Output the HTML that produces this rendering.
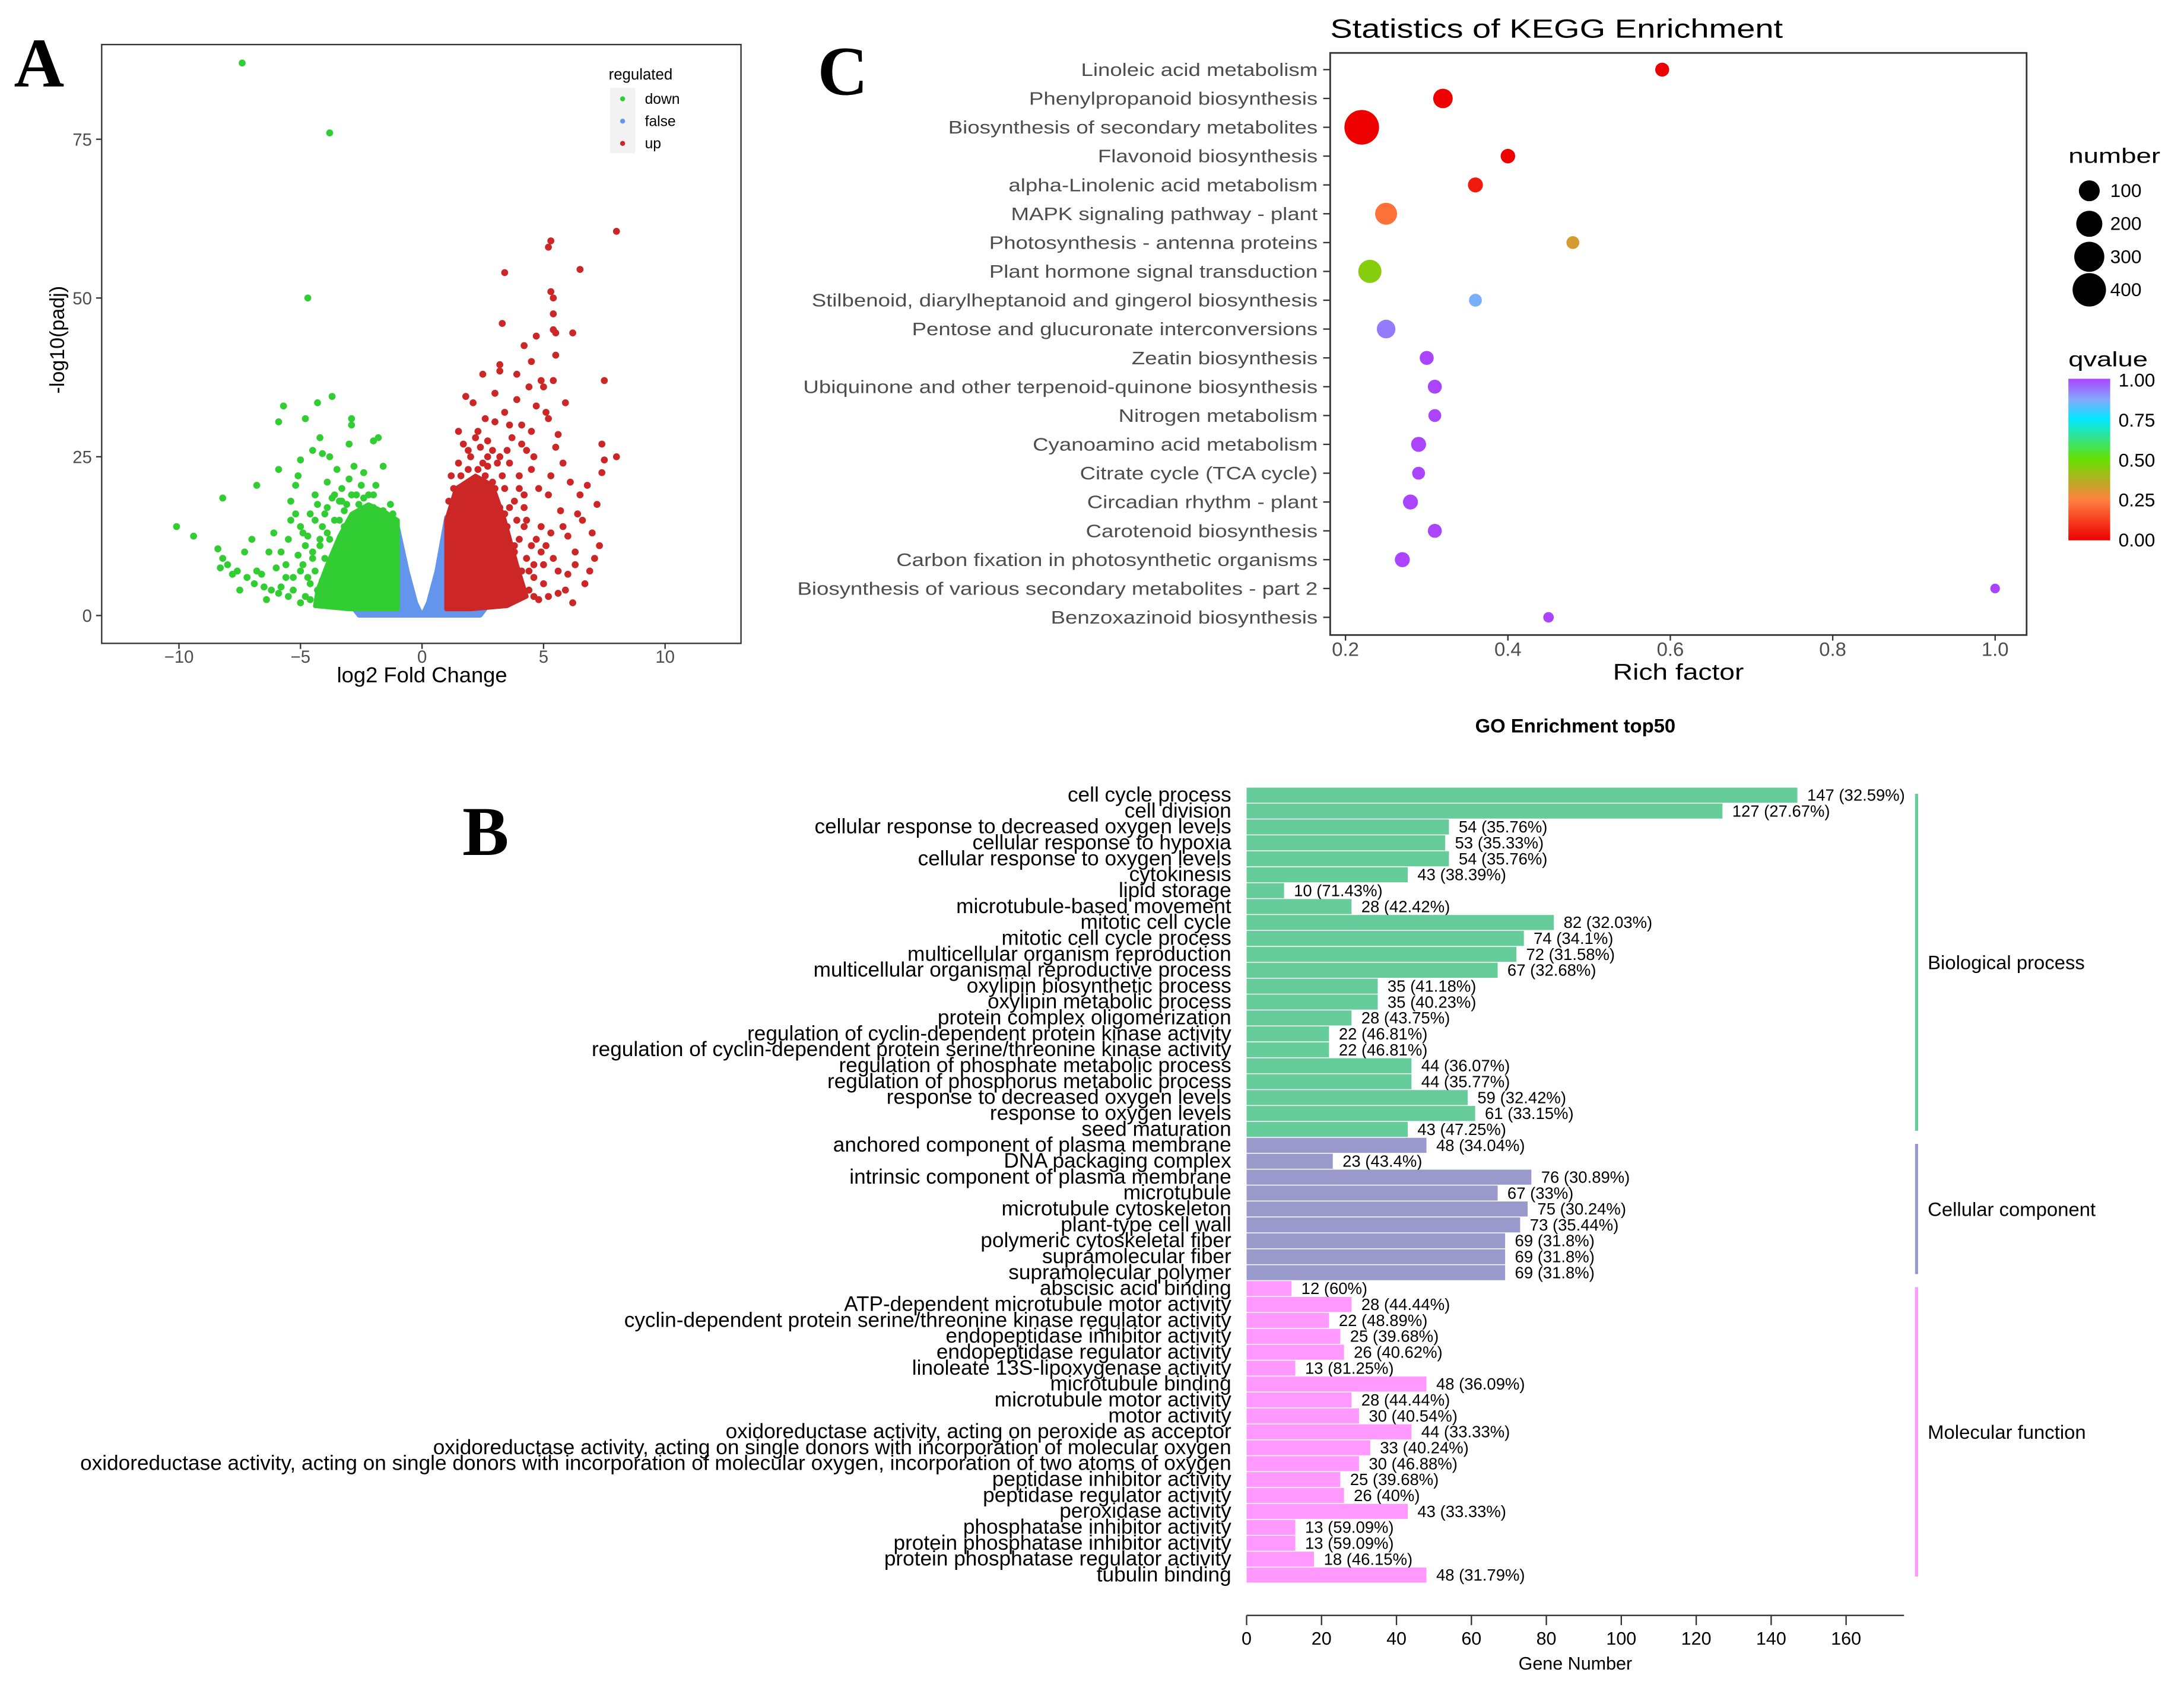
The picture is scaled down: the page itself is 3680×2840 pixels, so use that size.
<!DOCTYPE html>
<html><head><meta charset="utf-8"><style>
html,body{margin:0;padding:0;background:#fff;}
svg{display:block;font-family:"Liberation Sans",sans-serif;}
</style></head><body>
<svg id="fig" width="3680" height="2840" viewBox="0 0 1568 1210" preserveAspectRatio="none" xmlns="http://www.w3.org/2000/svg">
<rect width="1568" height="1210" fill="#fff"/>
<text x="10" y="62" font-family="Liberation Serif,serif" font-weight="bold" font-size="50">A</text>
<text x="587" y="68" font-family="Liberation Serif,serif" font-weight="bold" font-size="50">C</text>
<text x="332" y="614" font-family="Liberation Serif,serif" font-weight="bold" font-size="50">B</text>
<g id="volcano"></g>
<g id="kegg"></g>
<g id="go"></g>
</svg>
<script>
const NS="http://www.w3.org/2000/svg";
function mk(parent,tag,attrs,text){const e=document.createElementNS(NS,tag);for(const k in attrs)e.setAttribute(k,attrs[k]);if(text!==undefined)e.textContent=text;parent.appendChild(e);return e;}

/* ---------- Panel A: volcano ---------- */
const volXTicks=[-10,-5,0,5,10];
const volYTicks=[0,25,50,75];
const downPts=[[-7.4,87],[-3.8,76],[-4.7,50],[-10.1,14],[-9.4,12.5],[-8.2,18.5],[-6.8,20.5],[-5.7,33],[-4.3,33.5],[-3.7,34.5],[-5.9,30.5],[-4.8,31],[-2.9,31],[-2.9,30],[-1.8,28],[-2.0,27.5],[-4.2,28],[-3.0,27],[-4.5,26],[-4.1,25.5],[-3.8,25],[-5.0,24.5],[-3.5,23],[-5.9,23],[-1.6,23.5],[-2.8,23.5],[-2.4,22.5],[-5.1,22],[-3.0,21.5],[-3.9,21],[-2.5,20.5],[-3.3,20],[-5.2,20.5],[-8.4,10.5],[-8.2,9],[-8.0,8],[-7.6,7],[-7.2,6],[-6.9,5],[-6.5,4.5],[-6.2,4],[-5.8,4.5],[-7.0,12],[-7.3,10],[-6.6,6.5],[-6.0,7.5],[-5.5,3],[-5.0,2],[-5.3,6],[-4.9,8],[-5.5,12],[-5.0,14],[-4.6,16],[-4.2,12],[-3.9,17],[-3.6,19],[-3.4,15],[-3.2,14],[-4.5,10],[-4.0,9],[-3.7,6],[-4.3,4],[-4.8,11],[-5.2,16],[-5.4,18],[-4.4,19],[-7.8,6.5],[-8.3,7.5],[-6.4,2.5],[-5.9,3.5],[-4.6,2.5],[-3.4,18],[-2.2,19],[-1.9,20.5],[-2.7,19],[-3.1,17.5],[-1.5,16],[-1.2,15],[-4.1,14],[-3.8,12],[-4.7,6],[-5.6,8],[-6.3,10],[-6.8,7],[-7.5,4],[-3.5,10],[-3.9,3],[-4.6,5],[-4.8,3],[-5.0,7],[-4.5,9],[-4.2,11],[-3.9,13],[-3.6,15],[-3.2,16.5],[-2.6,17.5],[-2.0,17],[-1.6,16.5],[-1.2,16],[-5.3,4],[-5.6,6],[-4.9,13],[-4.4,15],[-4.0,16],[-3.3,18],[-2.9,19],[-2.4,18.5],[-5.1,9.5],[-4.7,12.5],[-4.4,7],[-4.1,5.5],[-5.8,10],[-6.1,13],[-5.4,15],[-4.3,17.5],[-3.7,18.5],[-2.0,19],[-1.3,17.5]];
const downCore=[[-1,1],[-1,15],[-1.4,16],[-2.2,17.5],[-2.9,16],[-3.4,12.5],[-3.9,8],[-4.3,4],[-4.4,1.5],[-3,1]];
const upPts=[[8.0,60.5],[5.3,59],[5.2,58],[6.5,54.5],[3.4,54],[5.3,51],[5.4,50],[5.4,47.5],[3.3,46],[5.4,45],[5.5,44.5],[6.2,44.5],[4.7,44],[4.2,42.5],[5.5,41],[4.5,40],[3.2,39.5],[3.2,38.5],[2.5,38],[7.5,37],[4.9,37],[5.4,37],[5.0,36],[4.4,36],[3.0,35],[1.8,34.5],[2.1,33.5],[5.9,33.5],[3.9,34],[4.7,33],[5.1,32],[3.4,32],[5.2,31],[3.0,30.5],[4.1,30],[2.3,29],[4.5,29],[1.5,29],[5.6,28.5],[3.7,28],[2.7,27.5],[4.1,27],[7.4,27],[5.5,26.5],[2.9,26],[1.9,26],[3.2,25],[4.6,25],[8.0,25],[7.5,24.5],[3.6,24],[2.7,23.5],[4.5,23],[7.4,22.5],[5.3,22],[6.1,21],[6.8,20.5],[4.0,20],[5.2,19],[6.5,19],[7.2,17.5],[5.7,16.5],[6.6,15],[4.3,15],[5.8,14],[6.0,12.5],[4.7,12],[7.3,11],[5.1,11],[3.8,10],[6.3,10],[5.4,9],[4.6,8],[6.9,7],[5.6,7],[4.0,5],[5.0,5],[6.7,5],[3.6,4.5],[5.9,4],[4.6,3],[3.8,3],[6.2,2],[5.6,3.5],[6.0,6.5],[4.9,10],[3.5,12],[3.0,20],[2.5,24],[3.8,18],[4.2,14],[3.0,8],[2.8,13],[6.4,16],[7.0,13],[3.3,22],[4.8,20],[2.2,28],[3.6,30],[4.3,26],[5.8,24],[6.3,8],[7.1,9],[4.4,7],[3.4,16],[4.0,22],[2.6,31],[3.9,38],[4.4,4],[4.1,7],[3.8,11],[3.5,14],[3.2,17],[2.9,21],[2.6,22],[2.3,23],[1.9,23],[1.6,22],[1.3,20],[1.1,18],[4.6,6],[4.3,9],[4.0,12],[3.6,17],[2.7,25],[2.0,25],[1.5,24],[1.2,22],[3.1,24],[3.4,20],[4.8,2.5],[5.2,3],[4.2,17],[3.9,15],[4.5,11],[5.0,8],[2.4,26.5],[1.7,27],[3.5,26],[4.2,19],[4.9,14],[5.3,13]];
const upCore=[[1,1],[1,15],[1.4,20],[2.2,22],[2.9,20.5],[3.4,15],[3.9,8],[4.3,3],[3.5,1.5],[2,1]];
const falseCore=[[-1,1],[-1,14],[-0.6,7],[-0.25,2],[0,0],[0.25,2],[0.6,7],[1,15.5],[1,1],[2.6,1],[2.4,0],[-2.6,0],[-2.8,1]];

const vx=v=>303+v*17.45, vy=v=>442-v*4.56;
(function(){
 const g=document.getElementById('volcano');
 mk(g,'rect',{x:73,y:32,width:459,height:430,fill:'none',stroke:'#333','stroke-width':1});
 volXTicks.forEach(t=>{mk(g,'line',{x1:vx(t),x2:vx(t),y1:462,y2:466,stroke:'#333'});
  const e=mk(g,'text',{x:vx(t),y:476,'text-anchor':'middle','font-size':12.5,fill:'#4d4d4d'},t<0?'\u2212'+(-t):String(t));
  });
 volYTicks.forEach(t=>{mk(g,'line',{x1:69,x2:73,y1:vy(t),y2:vy(t),stroke:'#333'});
  const e=mk(g,'text',{x:66,y:vy(t)+4.5,'text-anchor':'end','font-size':12.5,fill:'#4d4d4d'},String(t));
  });
 const xt=mk(g,'text',{x:303,y:490,'text-anchor':'middle','font-size':15.5},'log2 Fold Change');
 
 const yt=mk(g,'text',{x:0,y:0,transform:'translate(46,244) rotate(-90)','text-anchor':'middle','font-size':14.5},'-log10(padj)');
 
 const poly=(pts,c,name)=>{const p=mk(g,'polygon',{points:pts.map(q=>vx(q[0])+','+vy(q[1])).join(' '),fill:c,stroke:c,'stroke-width':3,'stroke-linejoin':'round'});
  };
 poly(falseCore,'#6495ed','false-core');
 poly(downCore,'#32cd32','down-core');
 poly(upCore,'#cd2626','up-core');
 downPts.forEach(p=>{const c=mk(g,'circle',{cx:vx(p[0]),cy:vy(p[1]),r:2.5,fill:'#32cd32'});
  });
 upPts.forEach(p=>{const c=mk(g,'circle',{cx:vx(p[0]),cy:vy(p[1]),r:2.5,fill:'#cd2626'});
  });
 const lt=mk(g,'text',{x:437,y:57,'font-size':11},'regulated');
 
 mk(g,'rect',{x:438,y:63,width:18,height:47,fill:'#f2f2f2'});
 [['down','#32cd32',71],['false','#6495ed',87],['up','#cd2626',103]].forEach(l=>{
  const c=mk(g,'circle',{cx:447,cy:l[2],r:1.8,fill:l[1]});
  
  const t=mk(g,'text',{x:463,y:l[2]+3.5,'font-size':10.5},l[0]);
  });
})();

/* ---------- Panel C: KEGG ---------- */
const keggTerms=["Linoleic acid metabolism","Phenylpropanoid biosynthesis","Biosynthesis of secondary metabolites","Flavonoid biosynthesis","alpha-Linolenic acid metabolism","MAPK signaling pathway - plant","Photosynthesis - antenna proteins","Plant hormone signal transduction","Stilbenoid, diarylheptanoid and gingerol biosynthesis","Pentose and glucuronate interconversions","Zeatin biosynthesis","Ubiquinone and other terpenoid-quinone biosynthesis","Nitrogen metabolism","Cyanoamino acid metabolism","Citrate cycle (TCA cycle)","Circadian rhythm - plant","Carotenoid biosynthesis","Carbon fixation in photosynthetic organisms","Biosynthesis of various secondary metabolites - part 2","Benzoxazinoid biosynthesis"];
const keggRich=[0.59,0.32,0.22,0.40,0.36,0.25,0.48,0.23,0.36,0.25,0.30,0.31,0.31,0.29,0.29,0.28,0.31,0.27,1.00,0.45];
const keggCount=[20,80,440,24,28,118,13,140,13,67,20,20,13,28,13,28,20,28,1,3];
const keggQ=[0.0,0.0,0.0,0.0,0.05,0.22,0.32,0.45,0.86,0.93,1,1,1,1,1,1,1,1,1,1];
const keggXTicks=[0.2,0.4,0.6,0.8,1.0];
const numLegend=[100,200,300,400];
const qTicks=[1.00,0.75,0.50,0.25,0.00];
const kx=v=>966+(v-0.2)*583, ky=i=>50+i*20.7;
const kr=n=>3+0.45*Math.sqrt(n);
const stops=[[0,[238,0,0]],[0.25,[255,128,64]],[0.5,[102,224,0]],[0.75,[0,232,255]],[0.87,[130,170,250]],[1,[170,68,255]]];
function qcol(q){for(let i=0;i<stops.length-1;i++){const a=stops[i],b=stops[i+1];if(q<=b[0]){const t=(q-a[0])/(b[0]-a[0]);return 'rgb('+a[1].map((v,j)=>Math.round(v+(b[1][j]-v)*t)).join(',')+')';}}return 'rgb(170,68,255)';}
(function(){
 const g=document.getElementById('kegg');
 const tt=mk(g,'text',{x:955,y:27,'font-size':19,textLength:325,lengthAdjust:'spacingAndGlyphs'},'Statistics of KEGG Enrichment');
 
 mk(g,'rect',{x:955,y:38,width:500,height:418,fill:'none',stroke:'#333','stroke-width':1.2});
 keggTerms.forEach((t,i)=>{mk(g,'line',{x1:950,x2:955,y1:ky(i),y2:ky(i),stroke:'#333'});
  const e=mk(g,'text',{x:946,y:ky(i)+4.5,'text-anchor':'end','font-size':13,fill:'#4d4d4d',transform:'translate(946,0) scale(1.2,1) translate(-946,0)'},t);
  });
 keggXTicks.forEach(t=>{mk(g,'line',{x1:kx(t),x2:kx(t),y1:456,y2:460,stroke:'#333'});
  const e=mk(g,'text',{x:kx(t),y:471,'text-anchor':'middle','font-size':14,fill:'#4d4d4d'},t.toFixed(1));
  });
 const xt=mk(g,'text',{x:1205,y:488,'text-anchor':'middle','font-size':16,textLength:94,lengthAdjust:'spacingAndGlyphs'},'Rich factor');
 
 keggTerms.forEach((t,i)=>{const c=mk(g,'circle',{cx:kx(keggRich[i]),cy:ky(i),r:kr(keggCount[i]),fill:qcol(keggQ[i])});
  });
 const nt=mk(g,'text',{x:1485,y:117,'font-size':15,textLength:66,lengthAdjust:'spacingAndGlyphs'},'number');
 
 numLegend.forEach((n,i)=>{const y=137+i*23.7;
  const c=mk(g,'circle',{cx:1500,cy:y,r:kr(n),fill:'#000'});
  
  const t=mk(g,'text',{x:1515,y:y+4.5,'font-size':13.5},String(n));
  });
 const qt=mk(g,'text',{x:1485,y:263,'font-size':15,textLength:57,lengthAdjust:'spacingAndGlyphs'},'qvalue');
 
 const defs=mk(g,'defs',{});const lg=mk(defs,'linearGradient',{id:'qg',x1:0,y1:1,x2:0,y2:0});
 stops.forEach(s=>mk(lg,'stop',{offset:s[0],'stop-color':'rgb('+s[1].join(',')+')'}));
 const cb=mk(g,'rect',{x:1485,y:272,width:30,height:116,fill:'url(#qg)'});
 
 qTicks.forEach(q=>{const y=388-q*115;
  const t=mk(g,'text',{x:1521,y:y+4.5,'font-size':13.5},q.toFixed(2));
  });
})();

/* ---------- Panel B: GO ---------- */
const goTerms=["cell cycle process","cell division","cellular response to decreased oxygen levels","cellular response to hypoxia","cellular response to oxygen levels","cytokinesis","lipid storage","microtubule-based movement","mitotic cell cycle","mitotic cell cycle process","multicellular organism reproduction","multicellular organismal reproductive process","oxylipin biosynthetic process","oxylipin metabolic process","protein complex oligomerization","regulation of cyclin-dependent protein kinase activity","regulation of cyclin-dependent protein serine/threonine kinase activity","regulation of phosphate metabolic process","regulation of phosphorus metabolic process","response to decreased oxygen levels","response to oxygen levels","seed maturation","anchored component of plasma membrane","DNA packaging complex","intrinsic component of plasma membrane","microtubule","microtubule cytoskeleton","plant-type cell wall","polymeric cytoskeletal fiber","supramolecular fiber","supramolecular polymer","abscisic acid binding","ATP-dependent microtubule motor activity","cyclin-dependent protein serine/threonine kinase regulator activity","endopeptidase inhibitor activity","endopeptidase regulator activity","linoleate 13S-lipoxygenase activity","microtubule binding","microtubule motor activity","motor activity","oxidoreductase activity, acting on peroxide as acceptor","oxidoreductase activity, acting on single donors with incorporation of molecular oxygen","oxidoreductase activity, acting on single donors with incorporation of molecular oxygen, incorporation of two atoms of oxygen","peptidase inhibitor activity","peptidase regulator activity","peroxidase activity","phosphatase inhibitor activity","protein phosphatase inhibitor activity","protein phosphatase regulator activity","tubulin binding"];
const goCounts=[147,127,54,53,54,43,10,28,82,74,72,67,35,35,28,22,22,44,44,59,61,43,48,23,76,67,75,73,69,69,69,12,28,22,25,26,13,48,28,30,44,33,30,25,26,43,13,13,18,48];
const goPct=["32.59%","27.67%","35.76%","35.33%","35.76%","38.39%","71.43%","42.42%","32.03%","34.1%","31.58%","32.68%","41.18%","40.23%","43.75%","46.81%","46.81%","36.07%","35.77%","32.42%","33.15%","47.25%","34.04%","43.4%","30.89%","33%","30.24%","35.44%","31.8%","31.8%","31.8%","60%","44.44%","48.89%","39.68%","40.62%","81.25%","36.09%","44.44%","40.54%","33.33%","40.24%","46.88%","39.68%","40%","33.33%","59.09%","59.09%","46.15%","31.79%"];
const goCategories=["Biological process","Cellular component","Molecular function"];
const goCatSize=[22,9,19];
const goXTicks=[0,20,40,60,80,100,120,140,160];
const catColors=["#66cc99","#9999cc","#ff99ff"];
const gx=v=>895+v*2.69, gy=i=>571+i*11.43;
(function(){
 const g=document.getElementById('go');
 const tt=mk(g,'text',{x:1131,y:526,'text-anchor':'middle','font-size':14,'font-weight':'bold'},'GO Enrichment top50');
 
 const catOf=[];goCatSize.forEach((n,c)=>{for(let k=0;k<n;k++)catOf.push(c);});
 goTerms.forEach((t,i)=>{const y=gy(i),c=catOf[i];
  const b=mk(g,'rect',{x:895,y:y-5.4,width:gx(goCounts[i])-895,height:10.8,fill:catColors[c]});
  
  const l=mk(g,'text',{x:884,y:y+4.6,'text-anchor':'end','font-size':15},t);
  
  const v=mk(g,'text',{x:gx(goCounts[i])+7,y:y+4,'font-size':11.7},goCounts[i]+' ('+goPct[i]+')');
  });
 let start=0;
 goCatSize.forEach((n,c)=>{const y1=gy(start)-1,y2=gy(start+n-1)+1;
  const ln=mk(g,'line',{x1:1376,x2:1376,y1:y1,y2:y2,stroke:catColors[c],'stroke-width':2.2});
  
  const t=mk(g,'text',{x:1384,y:(y1+y2)/2+5,'font-size':14},goCategories[c]);
  
  start+=n;});
 mk(g,'line',{x1:895,x2:1367,y1:1160,y2:1160,stroke:'#333','stroke-width':1});
 goXTicks.forEach(t=>{mk(g,'line',{x1:gx(t),x2:gx(t),y1:1160,y2:1167,stroke:'#333'});
  const e=mk(g,'text',{x:gx(t),y:1181,'text-anchor':'middle','font-size':13},String(t));
  });
 const xt=mk(g,'text',{x:1131,y:1199,'text-anchor':'middle','font-size':13},'Gene Number');
 
})();
</script>
</body></html>
